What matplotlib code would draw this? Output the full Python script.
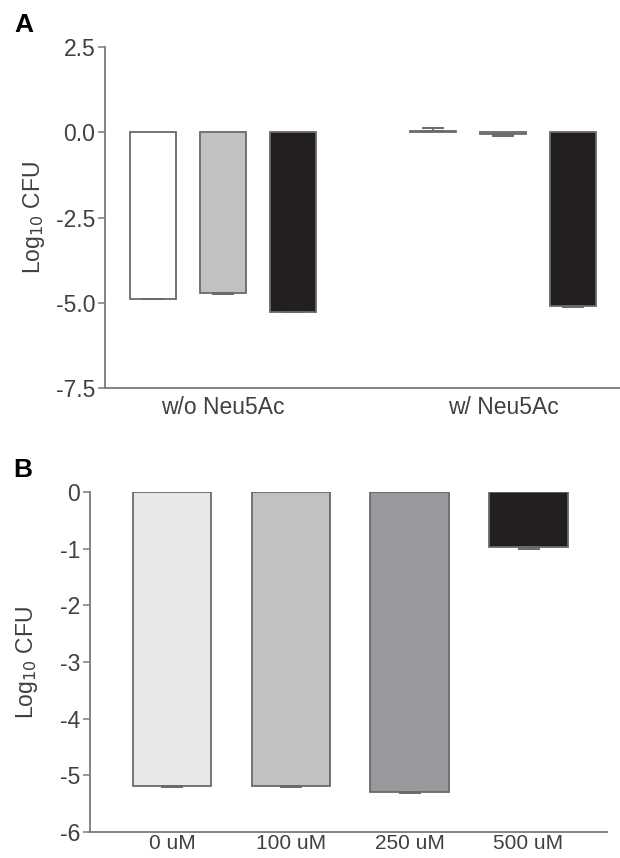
import matplotlib
matplotlib.use("Agg")
import matplotlib.pyplot as plt

plt.rcParams['font.family'] = ['Liberation Sans', 'DejaVu Sans']
plt.rcParams['axes.unicode_minus'] = False

# Panel A data
groupsA = ['w/o Neu5Ac', 'w/ Neu5Ac']
valsA = [-4.88, -4.71, -5.26, 0.03, -0.06, -5.09]
errA = [0.02, 0.02, 0.02, 0.08, 0.04, 0.02]
colorsA = ['#ffffff', '#c0c1c3', '#231f20', '#ffffff', '#c0c1c3', '#231f20']
posA = [0, 1, 2, 4, 5, 6]
yticksA = [2.5, 0.0, -2.5, -5.0, -7.5]

# Panel B data
catsB = ['0 uM', '100 uM', '250 uM', '500 uM']
valsB = [-5.19, -5.19, -5.30, -0.97]
errB = [0.01, 0.01, 0.01, 0.03]
colorsB = ['#e7e8ea', '#c0c1c3', '#98999c', '#231f20']
yticksB = [0, -1, -2, -3, -4, -5, -6]

spine_col = '#7a7a7a'
text_col = '#404040'
edge_col = '#6a6a6a'
fs = 16.5

fig = plt.figure(figsize=(6.2, 8.58), dpi=100)

def style(ax):
    for s in ['top', 'right']:
        ax.spines[s].set_visible(False)
    for s in ['left', 'bottom']:
        ax.spines[s].set_color(spine_col)
        ax.spines[s].set_linewidth(1.3)
    ax.tick_params(axis='y', length=5, width=1.1, color=spine_col,
                   labelcolor=text_col, labelsize=fs, pad=2)
    ax.tick_params(axis='x', length=0, labelcolor=text_col, labelsize=fs)

# --- A ---
ax1 = fig.add_axes([105/620, 1-388/858, 515/620, 341/858])
ax1.bar(posA, valsA, width=0.66, color=colorsA, edgecolor=edge_col, linewidth=1.3)
for i in range(len(posA)):
    v = valsA[i]
    sign = 1 if v >= 0 else -1
    ax1.errorbar(posA[i], v, yerr=[[0 if sign > 0 else errA[i]], [errA[i] if sign > 0 else 0]],
                 fmt='none', ecolor=edge_col, elinewidth=1.2, capsize=8, capthick=1.4)
ax1.set_xlim(-0.69, 6.67)
ax1.set_ylim(-7.5, 2.5)
ax1.set_yticks(yticksA)
ax1.set_yticklabels(['%.1f' % t for t in yticksA])
ax1.set_xticks([1, 5])
ax1.set_xticklabels(groupsA)
ax1.tick_params(axis='x', pad=6)
ax1.set_ylabel('Log$_{10}$ CFU', fontsize=fs, color=text_col, labelpad=6)
style(ax1)

# --- B ---
ax2 = fig.add_axes([90/620, 1-832/858, 517/620, 340/858])
xB = range(len(catsB))
ax2.bar(xB, valsB, width=0.66, color=colorsB, edgecolor=edge_col, linewidth=1.3)
ax2.errorbar(list(xB), valsB, yerr=[errB, [0]*len(errB)], fmt='none',
             ecolor=edge_col, elinewidth=1.2, capsize=8, capthick=1.4)
ax2.set_xlim(-0.69, 3.66)
ax2.set_ylim(-6, 0)
ax2.set_yticks(yticksB)
ax2.set_xticks(list(xB))
ax2.set_xticklabels(catsB)
style(ax2)
ax2.tick_params(axis='x', pad=1.5, labelsize=15)
ax2.set_ylabel('Log$_{10}$ CFU', fontsize=fs, color=text_col, labelpad=14)

fig.text(14/620, 1-13/858, 'A', fontsize=19, fontweight='bold', va='top', ha='left')
fig.text(13/620, 1-458/858, 'B', fontsize=19, fontweight='bold', va='top', ha='left')

fig.savefig('out.png', dpi=100)
